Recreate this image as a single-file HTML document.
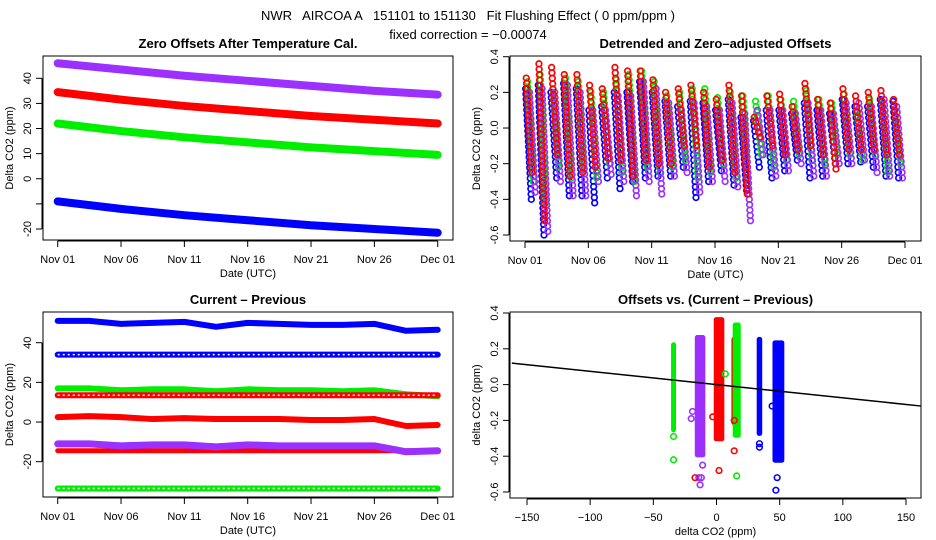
<!DOCTYPE html>
<html><head><meta charset="utf-8"><style>
body{margin:0;background:#fff}
svg{display:block;font-family:"Liberation Sans",sans-serif}
text{white-space:pre}
</style></head><body>
<svg id="c" width="936" height="540" viewBox="0 0 936 540" xmlns="http://www.w3.org/2000/svg">
<text x="468" y="20" text-anchor="middle" font-size="13">NWR   AIRCOA A   151101 to 151130   Fit Flushing Effect ( 0 ppm/ppm )</text>
<text x="468" y="39" text-anchor="middle" font-size="13">fixed correction = −0.00074</text>
</svg>
<script>
// ---------- data ----------
const dateTicks=["Nov 01","Nov 06","Nov 11","Nov 16","Nov 21","Nov 26","Dec 01"];
const dateTickDays=[0,5,10,15,20,25,30];
// Panel 1 : values every 5 days
const p1Days=[0,5,10,15,20,25,30];
const p1Purple=[46,43.5,41,39,37,35,33.5];
const p1Red=[34.5,31.5,29,27,25,23.5,22];
const p1Green=[22,19,16.5,14.5,12.5,11,9.5];
const p1Blue=[-9,-12,-14.5,-16.5,-18.5,-20,-21.5];
const p1YTicks=[-20,-10,0,10,20,30,40];
const p1YLabels=["-20","","0","10","20","30","40"];
// Panel 2 : per-day cycle highs and lows
const p2Red  =[[0.28,0.36,0.34,0.30,0.30,0.24,0.22,0.34,0.32,0.32,0.27,0.20,0.22,0.24,0.20,0.16,0.24,0.18,0.06,0.18,0.19,0.12,0.25,0.16,0.14,0.22,0.18,0.20,0.21,0.16],
              [-0.25,-0.52,-0.15,-0.27,-0.25,-0.22,-0.17,-0.18,-0.27,-0.18,-0.20,-0.20,-0.10,-0.10,-0.22,-0.18,-0.25,-0.37,-0.05,-0.10,-0.15,-0.12,-0.10,-0.15,-0.23,-0.12,-0.12,-0.12,-0.15,-0.15]];
const p2Green=[[0.26,0.30,0.22,0.28,0.26,0.20,0.20,0.27,0.30,0.32,0.26,0.18,0.20,0.22,0.22,0.17,0.20,0.18,0.15,0.18,0.16,0.15,0.21,0.16,0.14,0.19,0.10,0.16,0.15,0.10],
              [-0.30,-0.42,-0.22,-0.28,-0.24,-0.28,-0.20,-0.25,-0.30,-0.22,-0.25,-0.22,-0.18,-0.28,-0.25,-0.20,-0.28,-0.31,-0.15,-0.22,-0.18,-0.15,-0.18,-0.20,-0.15,-0.15,-0.18,-0.15,-0.25,-0.20]];
const p2Blue =[[0.22,0.24,0.20,0.25,0.22,0.10,0.12,0.20,0.20,0.26,0.20,0.15,0.12,0.15,0.14,0.10,0.16,0.06,0.04,0.10,0.10,0.08,0.14,0.10,0.08,0.16,0.12,0.12,0.16,0.15],
              [-0.40,-0.60,-0.28,-0.38,-0.38,-0.42,-0.28,-0.34,-0.30,-0.28,-0.27,-0.27,-0.22,-0.39,-0.30,-0.24,-0.32,-0.35,-0.22,-0.28,-0.24,-0.18,-0.28,-0.27,-0.20,-0.20,-0.19,-0.22,-0.27,-0.28]];
const p2Purple=[[0.20,0.22,0.20,0.24,0.20,0.10,0.10,0.18,0.18,0.26,0.22,0.14,0.10,0.14,0.12,0.10,0.14,0.08,0.10,0.10,0.10,0.08,0.14,0.10,0.08,0.14,0.14,0.12,0.16,0.12],
              [-0.36,-0.58,-0.30,-0.38,-0.38,-0.30,-0.26,-0.30,-0.38,-0.30,-0.37,-0.27,-0.25,-0.36,-0.30,-0.30,-0.33,-0.52,-0.15,-0.27,-0.24,-0.20,-0.27,-0.27,-0.20,-0.20,-0.18,-0.25,-0.27,-0.28]];
const p2YTicks=[-0.6,-0.4,-0.2,0,0.2,0.4];
const p2YLabels=["-0.6","-0.4","-0.2","0.0","0.2","0.4"];
// Panel 3 : values every 2.5 days
const p3Days=[0,2.5,5,7.5,10,12.5,15,17.5,20,22.5,25,27.5,30];
const p3BlueHi=[51,51,49.5,50,50.5,48,50,49.5,49,49,49.5,46,46.5];
const p3Blue34=[34,34,34,34,34,34,34,34,34,34,34,34,34];
const p3Green17=[17,17,16,16.5,16.5,15.5,16.5,16,16,15.5,16,14,13];
const p3Red14=[13.5,13.5,13.5,13.5,13.5,13.5,13.5,13.5,13.5,13.5,13.5,13.5,13.5];
const p3Red2=[2.5,3,2.5,1.5,2,1.5,1.5,1.5,1,1,1.5,-2,-1.5];
const p3RedM14=[-14.5,-14.5,-14.5,-14.5,-14.5,-14.5,-14.5,-14.5,-14.5,-14.5,-14.5,-14.5,-14.5];
const p3Purple=[-11,-11,-12,-11.5,-11.5,-12.5,-11.5,-12,-12,-12,-12,-15,-14.5];
const p3GreenM33=[-33.5,-33.5,-33.5,-33.5,-33.5,-33.5,-33.5,-33.5,-33.5,-33.5,-33.5,-33.5,-33.5];
const p3YTicks=[-20,0,20,40];
const p3YLabels=["-20","0","20","40"];
// Panel 4
const p4ColX=[-34,-13,2,14,16,34,49];
const p4ColW=[1,6,6,2,4,2,7];
const p4ColLo=[-0.25,-0.39,-0.30,-0.21,-0.28,-0.27,-0.42];
const p4ColHi=[0.22,0.26,0.36,0.25,0.33,0.25,0.23];
const p4ColC=["#00ee00","#9b30ff","#ff0000","#ff0000","#00ee00","#0000ff","#0000ff"];
const p4OutX=[-34,-34,-13,-11,-14,-17,-12,2,14,16,14,34,34,48,47,-19,-20,44,7,-3];
const p4OutY=[-0.29,-0.42,-0.56,-0.45,-0.52,-0.52,-0.52,-0.48,-0.37,-0.51,-0.20,-0.33,-0.35,-0.52,-0.59,-0.15,-0.19,-0.12,0.06,-0.18];
const p4OutC=["#00ee00","#00ee00","#9b30ff","#9b30ff","#9b30ff","#ff0000","#9b30ff","#ff0000","#ff0000","#00ee00","#ff0000","#0000ff","#0000ff","#0000ff","#0000ff","#9b30ff","#9b30ff","#0000ff","#00ee00","#ff0000"];
const p4Slope=-0.00074, p4Intercept=0.0;
const p4XTicks=[-150,-100,-50,0,50,100,150];
const p4YTicks=[-0.6,-0.4,-0.2,0,0.2,0.4];
const p4YLabels=["-0.6","-0.4","-0.2","0.0","0.2","0.4"];

// ---------- helpers ----------
const svg=document.getElementById('c');
const NS="http://www.w3.org/2000/svg";
function mk(tag,attrs,parent){const e=document.createElementNS(NS,tag);for(const k in attrs)e.setAttribute(k,attrs[k]);(parent||svg).appendChild(e);return e;}
function lin(d0,d1,r0,r1){return v=>r0+(v-d0)*(r1-r0)/(d1-d0);}

function panel(name,box,title,xs,ys,xTicks,xLabels,yTicks,yLabels,xTitle,yTitle){
  const g=mk('g',{});
  
  
  const fr=mk('rect',{x:box.l,y:box.t,width:box.r-box.l,height:box.b-box.t,fill:'none',stroke:'#000','stroke-width':1},g);
  
  
  const tt=mk('text',{x:(box.l+box.r)/2,y:box.t-8,'text-anchor':'middle','font-size':13,'font-weight':'bold'},g);
  tt.textContent=title;
  
  
  const ax=mk('g',{},g);
  
  
  mk('line',{x1:xs(xTicks[0]),x2:xs(xTicks[xTicks.length-1]),y1:box.b+1,y2:box.b+1,stroke:'#000'},ax);
  xTicks.forEach((v,i)=>{const x=xs(v);mk('line',{x1:x,x2:x,y1:box.b+1,y2:box.b+7,stroke:'#000'},ax);
    const t=mk('text',{x:x,y:box.b+23,'text-anchor':'middle','font-size':11},ax);t.textContent=xLabels[i];
    
    });
  const xt=mk('text',{x:(box.l+box.r)/2,y:box.b+37,'text-anchor':'middle','font-size':11},g);xt.textContent=xTitle;
  
  
  const ay=mk('g',{},g);
  
  
  mk('line',{x1:box.l-1,x2:box.l-1,y1:ys(yTicks[0]),y2:ys(yTicks[yTicks.length-1]),stroke:'#000'},ay);
  yTicks.forEach((v,i)=>{const y=ys(v);mk('line',{x1:box.l-7,x2:box.l-1,y1:y,y2:y,stroke:'#000'},ay);
    const t=mk('text',{x:box.l-12,y:y,'text-anchor':'middle','font-size':11,transform:`rotate(-90 ${box.l-12} ${y})`},ay);t.textContent=yLabels[i];
    
    });
  const yt=mk('text',{x:box.l-30,y:(box.t+box.b)/2,'text-anchor':'middle','font-size':11,transform:`rotate(-90 ${box.l-30} ${(box.t+box.b)/2})`},g);yt.textContent=yTitle;
  
  
  return g;
}
function band(g,days,vals,xs,ys,col,w,rings,name){
  const pts=days.map((d,i)=>xs(d)+','+ys(vals[i])).join(' ');
  const p=mk('polyline',{points:pts,fill:'none',stroke:col,'stroke-width':w,'stroke-linecap':'round','stroke-linejoin':'round'},g);
  
  
  if(rings){mk('polyline',{points:pts,fill:'none',stroke:'#fff','stroke-width':1.5,'stroke-dasharray':'2 3'},g);}
}

// ---------- Panel 1 ----------
{const box={l:43,r:453,t:56,b:240};
 const xs=lin(0,30,57.7,437.7), ys=lin(-20,40,229,78.3);
 const g=panel('panel-zero-offsets',box,'Zero Offsets After Temperature Cal.',xs,ys,dateTickDays,dateTicks,p1YTicks,p1YLabels,'Date (UTC)','Delta CO2 (ppm)');
 band(g,p1Days,p1Purple,xs,ys,'#9b30ff',8,false,'series-purple');
 band(g,p1Days,p1Red,xs,ys,'#ff0000',8,false,'series-red');
 band(g,p1Days,p1Green,xs,ys,'#00ee00',8,false,'series-green');
 band(g,p1Days,p1Blue,xs,ys,'#0000ff',8,false,'series-blue');}

// ---------- Panel 2 ----------
{const box={l:510,r:921,t:56,b:241};
 const xs=lin(0,30,525,905), ys=lin(-0.6,0.4,235,56.7);
 const g=panel('panel-detrended',box,'Detrended and Zero\u2013adjusted Offsets',xs,ys,dateTickDays,dateTicks,p2YTicks,p2YLabels,'Date (UTC)','Delta CO2 (ppm)');
 const ser=[[p2Blue,'#0000ff',0.05],[p2Green,'#00ee00',0.2],[p2Purple,'#9b30ff',0.35],[p2Red,'#ff0000',0.1]];
 ser.forEach(([s,col,ph])=>{const sg=mk('g',{},g);
   
   
   s[0].forEach((hi,d)=>{const lo=s[1][d];const n=Math.max(2,Math.round((hi-lo)/0.03));
     for(let k=0;k<=n;k++){const f=k/n;mk('circle',{cx:xs(d+ph+f*0.45),cy:ys(hi+(lo-hi)*f),r:2.8,fill:'none',stroke:col,'stroke-width':1.7},sg);}
   });});}

// ---------- Panel 3 ----------
{const box={l:43,r:453,t:312,b:497};
 const xs=lin(0,30,57.7,437.7), ys=lin(-20,40,461.7,342.7);
 const g=panel('panel-current-previous',box,'Current \u2013 Previous',xs,ys,dateTickDays,dateTicks,p3YTicks,p3YLabels,'Date (UTC)','Delta CO2 (ppm)');
 band(g,p3Days,p3BlueHi,xs,ys,'#0000ff',6,false,'band-blue-51');
 band(g,p3Days,p3Blue34,xs,ys,'#0000ff',6,true,'band-blue-34');
 band(g,p3Days,p3Green17,xs,ys,'#00ee00',6,false,'band-green-17');
 band(g,p3Days,p3Red14,xs,ys,'#ff0000',6,true,'band-red-14');
 band(g,p3Days,p3Red2,xs,ys,'#ff0000',6,false,'band-red-2');
 band(g,p3Days,p3RedM14,xs,ys,'#ff0000',5,false,'band-red-m14');
 band(g,p3Days,p3Purple,xs,ys,'#9b30ff',7,false,'band-purple');
 band(g,p3Days,p3GreenM33,xs,ys,'#00ee00',6,true,'band-green-m33');}

// ---------- Panel 4 ----------
{const box={l:510,r:921,t:312,b:498};
 const xs=lin(-150,150,527,906), ys=lin(-0.6,0.4,492,313);
 const g=panel('panel-offsets-vs-diff',box,'Offsets vs. (Current \u2013 Previous)',xs,ys,p4XTicks,p4XTicks.map(v=>v<0?'\u2212'+(-v):String(v)),p4YTicks,p4YLabels,'delta CO2 (ppm)','delta CO2 (ppm)');
 p4ColX.forEach((x,i)=>{const w=Math.max(5,xs(x+p4ColW[i]/2)-xs(x-p4ColW[i]/2)+3);
   const r=mk('rect',{x:xs(x)-w/2,y:ys(p4ColHi[i])-3,width:w,height:ys(p4ColLo[i])-ys(p4ColHi[i])+6,rx:2.5,fill:p4ColC[i]},g);
   
   });
 p4OutX.forEach((x,i)=>{const c=mk('circle',{cx:xs(x),cy:ys(p4OutY[i]),r:2.8,fill:'none',stroke:p4OutC[i],'stroke-width':1.6},g);
   
   });
 const x0=-162,x1=162;
 const ln=mk('line',{x1:xs(x0),y1:ys(p4Intercept+p4Slope*x0),x2:xs(x1),y2:ys(p4Intercept+p4Slope*x1),stroke:'#000','stroke-width':1.5},g);
 
 }
</script>
</body></html>
